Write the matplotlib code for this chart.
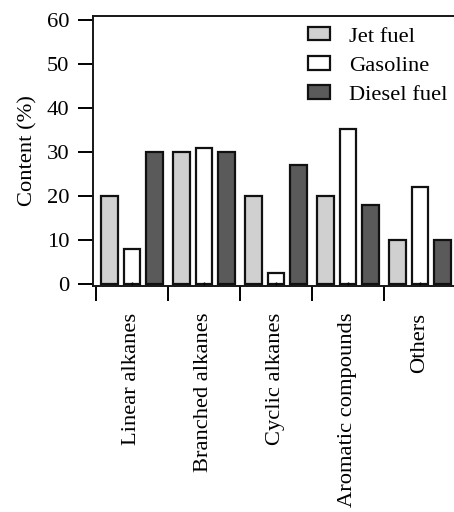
# Hydrocarbon class composition of jet fuel, gasoline and diesel fuel

import matplotlib.pyplot as plt
import numpy as np

categories = ["Linear alkanes", "Branched alkanes", "Cyclic alkanes",
              "Aromatic compounds", "Others"]
jet_fuel = [20, 30, 20, 20, 10]
gasoline = [8, 31, 2.6, 35.3, 22]
diesel_fuel = [30, 30, 27, 18, 10]

plt.rcParams["font.family"] = ["Liberation Serif", "DejaVu Serif"]
plt.rcParams["font.size"] = 16.2

fig = plt.figure(figsize=(4.54, 5.12), dpi=100)
ax = fig.add_axes([93 / 454, 1 - 286 / 512, 363 / 454, 270 / 512])

x = np.arange(len(categories))
step = 0.3125
width = 0.232
edge = "#111111"
lw = 1.6
ax.bar(x - step, jet_fuel, width, color="#d0d0d0", edgecolor=edge,
       linewidth=lw, label="Jet fuel")
ax.bar(x, gasoline, width, color="white", edgecolor=edge,
       linewidth=lw, label="Gasoline")
ax.bar(x + step, diesel_fuel, width, color="#5a5a5a", edgecolor=edge,
       linewidth=lw, label="Diesel fuel")

ax.set_xlim(-0.54, 4.5)
ax.set_ylim(-0.4, 60.9)
ax.spines["right"].set_visible(False)
for s in ["left", "top", "bottom"]:
    ax.spines[s].set_linewidth(1.4)
    ax.spines[s].set_color("#161616")

ax.set_yticks(range(0, 61, 10))
ax.tick_params(axis="y", direction="out", length=11, width=1.4, pad=6)

# short ticks inside at group centres, long ticks outside at group edges
ax.set_xticks(x)
ax.set_xticklabels(categories, rotation=90, va="top", ha="center")
ax.tick_params(axis="x", which="major", direction="in", length=3,
               width=1.0, pad=19)
ax.set_xticks(np.arange(-0.5, 4.5, 1.0), minor=True)
ax.tick_params(axis="x", which="minor", direction="out", length=11,
               width=1.4)

ax.set_ylabel("Content (%)", labelpad=7)

ax.legend(loc="upper left", bbox_to_anchor=(0.548, 1.018), frameon=False,
          handlelength=0.98, handleheight=0.55, handletextpad=0.85,
          labelspacing=0.42, borderpad=0.2)

fig.savefig("out.png", dpi=100)
